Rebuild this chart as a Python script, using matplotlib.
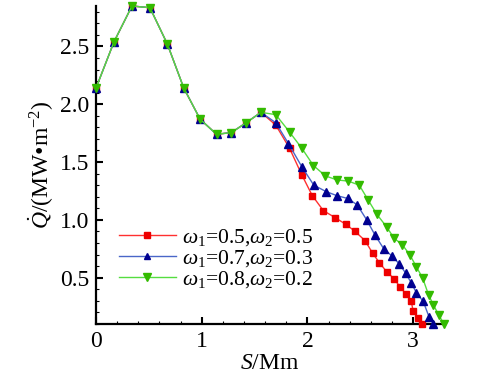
import matplotlib
matplotlib.use('Agg')
import matplotlib.pyplot as plt
from matplotlib.ticker import MultipleLocator

plt.rcParams['font.family'] = ['Liberation Serif', 'DejaVu Serif']
plt.rcParams['mathtext.fontset'] = 'custom'
plt.rcParams['mathtext.rm'] = 'Liberation Serif'
plt.rcParams['mathtext.it'] = 'Liberation Serif:italic'

# shared part of the three curves (they coincide up to the peak near S=1.56)
common_s = [0, 0.17, 0.34, 0.51, 0.675, 0.83, 0.985, 1.14, 1.28, 1.42, 1.56]
common_q = [2.14, 2.54, 2.85, 2.835, 2.52, 2.14, 1.87, 1.74, 1.755, 1.84, 1.93]

s_05 = [1.70, 1.83, 1.946, 2.045, 2.15, 2.26, 2.365, 2.45, 2.545, 2.617, 2.68, 2.75,
        2.82, 2.875, 2.93, 2.98, 3.00, 3.05, 3.08]
q_05 = [1.82, 1.62, 1.39, 1.21, 1.08, 1.02, 0.96, 0.90, 0.82, 0.71, 0.63, 0.55,
        0.49, 0.42, 0.36, 0.30, 0.21, 0.15, 0.10]

s_07 = [1.70, 1.82, 1.946, 2.06, 2.175, 2.276, 2.38, 2.47, 2.56, 2.64, 2.72, 2.80,
        2.87, 2.93, 2.98, 3.03, 3.095, 3.15, 3.19]
q_07 = [1.84, 1.66, 1.46, 1.30, 1.245, 1.21, 1.185, 1.13, 1.0, 0.866, 0.752, 0.686,
        0.617, 0.537, 0.457, 0.37, 0.294, 0.16, 0.10]

s_08 = [1.70, 1.83, 1.946, 2.056, 2.17, 2.28, 2.387, 2.49, 2.575, 2.655, 2.75, 2.82,
        2.896, 2.97, 3.03, 3.09, 3.145, 3.19, 3.24, 3.29]
q_08 = [1.91, 1.76, 1.62, 1.47, 1.38, 1.345, 1.335, 1.30, 1.17, 1.05, 0.937, 0.84,
        0.786, 0.695, 0.594, 0.495, 0.352, 0.266, 0.18, 0.10]

labels = [r'$\omega_1$=0.5,$\omega_2$=0.5',
          r'$\omega_1$=0.7,$\omega_2$=0.3',
          r'$\omega_1$=0.8,$\omega_2$=0.2']

fig = plt.figure(figsize=(4.85, 3.74), dpi=100)
ax = fig.add_axes([0.198, 0.134, 0.715, 0.85])

series = [
    (s_05, q_05, 's', '#ff3030', '#ee0000', 5),
    (s_07, q_07, '^', '#4a66c8', '#000090', 5.5),
    (s_08, q_08, 'v', '#55dd40', '#33bb00', 6),
]
for (s, q, m, lc, mc, ms), lab in zip(series, labels):
    ax.plot(common_s + s, common_q + q, color=lc, lw=1.0, marker=m, ms=ms,
            mfc=mc, mec=mc, label=lab, clip_on=False, zorder=3)

ax.set_xlim(0, 3.28)
ax.set_ylim(0.1, 2.85)
ax.xaxis.set_minor_locator(MultipleLocator(0.2))
ax.yaxis.set_minor_locator(MultipleLocator(0.1))
ax.set_xticks([0, 1, 2, 3])
ax.set_xticklabels(['0', '1', '2', '3'])
ax.set_yticks([0.5, 1.0, 1.5, 2.0, 2.5])
ax.set_yticklabels(['0.5', '1.0', '1.5', '2.0', '2.5'])

for side in ['top', 'right']:
    ax.spines[side].set_visible(False)
for side in ['left', 'bottom']:
    ax.spines[side].set_linewidth(1.6)
ax.tick_params(which='major', direction='in', length=5, width=1.5, labelsize=17, pad=5)
ax.tick_params(which='minor', direction='in', length=2.5, width=0.8)

ax.set_xlabel(r'$S$/Mm', fontsize=17, labelpad=1)
ax.set_ylabel('$\\dot{Q}$/(MW\u2022m$^{-2}$)', fontsize=17, labelpad=3)

ax.legend(loc='center left', bbox_to_anchor=(0.066, 0.205), frameon=False, fontsize=15.5,
          handlelength=2.65, handletextpad=0.3, labelspacing=0.0, borderpad=0,
          borderaxespad=0, markerscale=0.85)

fig.savefig('out.png', dpi=100)
